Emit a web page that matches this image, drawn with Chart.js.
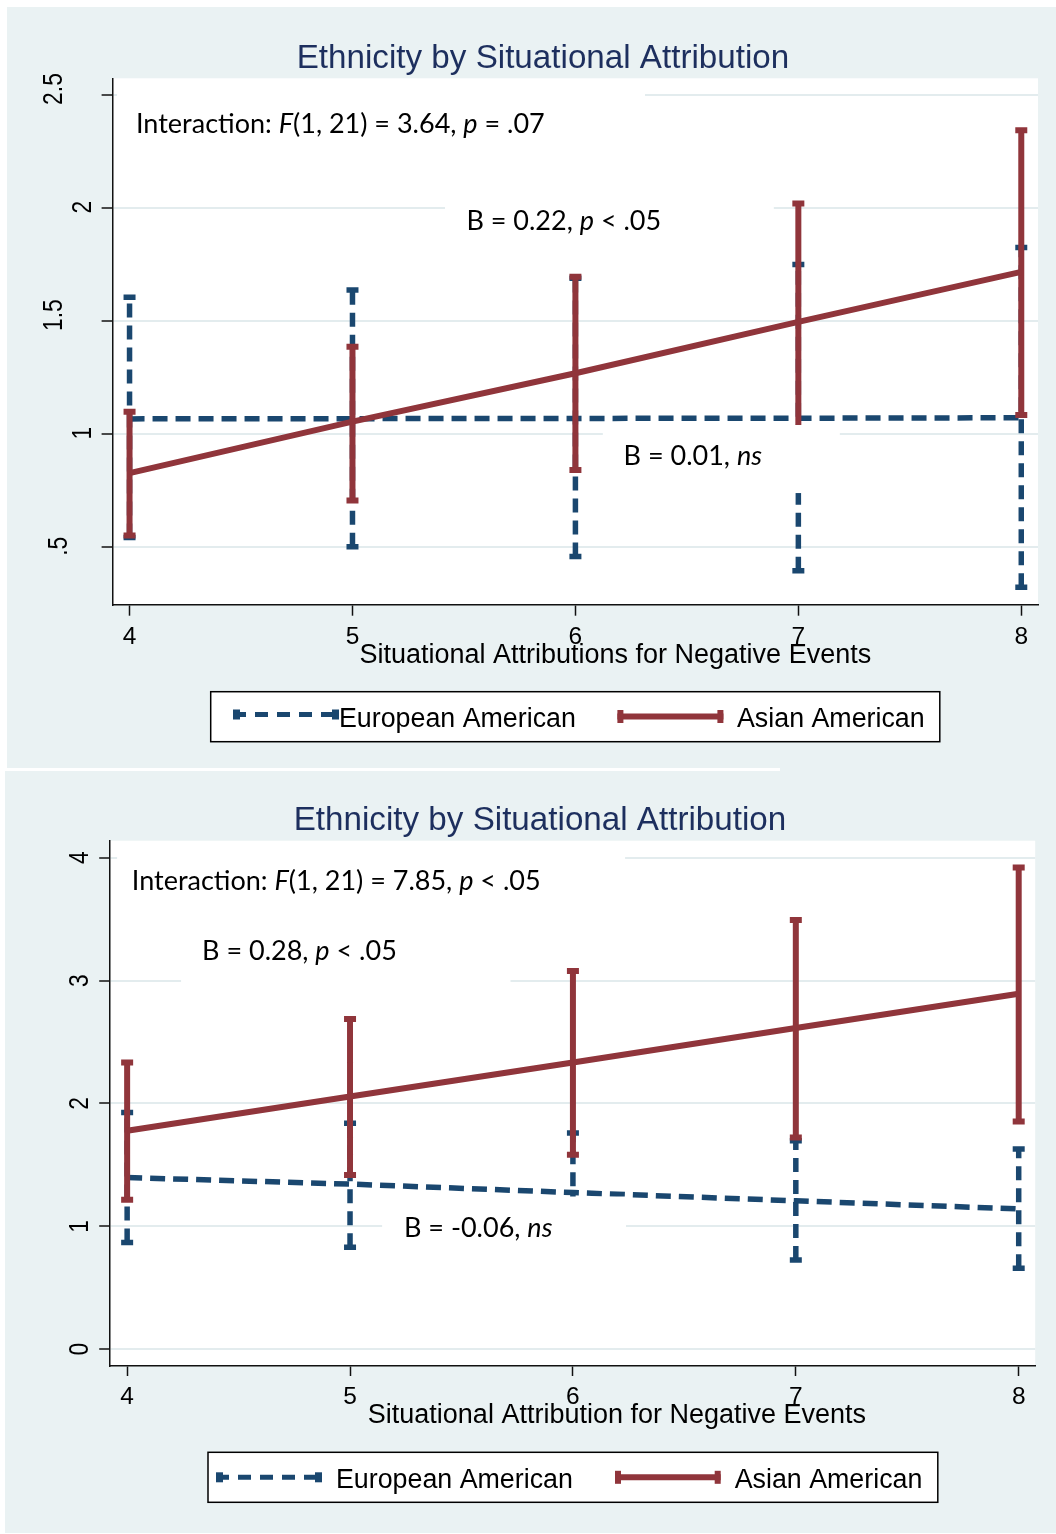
<!DOCTYPE html>
<html>
<head>
<meta charset="utf-8">
<title>Ethnicity by Situational Attribution</title>
<script src="https://cdn.jsdelivr.net/npm/chart.js@4.4.1/dist/chart.umd.min.js"></script>
<style>
  html, body { margin:0; padding:0; background:#ffffff; }
  #page { position:relative; width:1056px; height:1534px; overflow:hidden; }
  canvas { position:absolute; left:0; display:block; }
  #c1 { top:0; }
  #c2 { top:770px; }
</style>
</head>
<body>
<div id="page">
  <canvas id="c1" width="1056" height="770"></canvas>
  <canvas id="c2" width="1056" height="764"></canvas>
</div>
<script>
// ================= DATA =================
const categories  = [4, 5, 6, 7, 8];
const xTickLabels = ['4', '5', '6', '7', '8'];
const seriesNames = ['European American', 'Asian American'];
const chartTitle  = 'Ethnicity by Situational Attribution';

// ---- Panel 1 ----
const p1XTitle       = 'Situational Attributions for Negative Events';
const p1YTicks       = [0.5, 1, 1.5, 2, 2.5];
const p1YTickLabels  = ['.5', '1', '1.5', '2', '2.5'];
const p1EuroMean     = [1.068, 1.069, 1.070, 1.071, 1.073];
const p1EuroLow      = [0.543, 0.503, 0.459, 0.396, 0.324];
const p1EuroHigh     = [1.606, 1.638, 1.690, 1.751, 1.826];
const p1AsianMean    = [0.828, 1.056, 1.270, 1.497, 1.718];
const p1AsianLow     = [0.552, 0.707, 0.842, 0.975, 1.085];
const p1AsianHigh    = [1.099, 1.387, 1.696, 2.020, 2.344];

// ---- Panel 2 ----
const p2XTitle       = 'Situational Attribution for Negative Events';
const p2YTicks       = [0, 1, 2, 3, 4];
const p2YTickLabels  = ['0', '1', '2', '3', '4'];
const p2EuroMean     = [1.397, 1.344, 1.275, 1.208, 1.142];
const p2EuroLow      = [0.868, 0.830, 0.790, 0.727, 0.660];
const p2EuroHigh     = [1.927, 1.840, 1.759, 1.696, 1.629];
const p2AsianMean    = [1.778, 2.057, 2.334, 2.614, 2.893];
const p2AsianLow     = [1.216, 1.419, 1.582, 1.723, 1.853];
const p2AsianHigh    = [2.334, 2.687, 3.078, 3.493, 3.919];

// ---- annotation texts (runs: [text, italic]) ----
const p1Notes = [
  [['Interaction: ',0],['F',1],['(1, 21) = 3.64, ',0],['p',1],[' = .07',0]],
  [['B = 0.22, ',0],['p',1],[' < .05',0]],
  [['B = 0.01, ',0],['ns',1]]
];
const p2Notes = [
  [['Interaction: ',0],['F',1],['(1, 21) = 7.85, ',0],['p',1],[' < .05',0]],
  [['B = 0.28, ',0],['p',1],[' < .05',0]],
  [['B = -0.06, ',0],['ns',1]]
];

// ================= STYLE / LAYOUT =================
const BLUE  = '#1A476F';
const RED   = '#90353B';
const PANEL = '#EAF2F3';
const GRID  = '#E3ECEE';
const TITLE_COLOR = '#1D2F5E';
const SANS  = '"Liberation Sans", Arial, sans-serif';
const NOTE_FONT = 'Lato, "Open Sans", sans-serif';
const NOTE_SIZE = 27;

const layout1 = {
  id: 'p1', offsetY: 0, W: 1056, H: 770,
  panel: [7, 7, 1049, 761],
  area: { left: 112.6, top: 78.3, right: 1038, bottom: 605 },
  xMin: 3.924, xMax: 8.075, yMin: 0.245, yMax: 2.574,
  tickLen: 10.7, xTickPad: 6.6,
  title: { cx: 543, base: 68.3 },
  xTitle: { x: 359.4, base: 663.3, text: p1XTitle },
  yTicks: p1YTicks, yTickLabels: p1YTickLabels,
  yLabelX: { 1: 82, 2: 58, 3: 53 }, yLabelDy: { 1: -1, 2: -1, 3: -6 },
  notes: [
    { at: [4.029, 2.331], box: [3.944, 2.510, 6.312, 2.207] },
    { at: [5.511, 1.9025], box: [5.415, 2.079, 6.890, 1.779] },
    { at: [6.216, 0.864], box: [6.123, 1.041, 7.186, 0.740] }
  ],
  noteRuns: p1Notes,
  legend: {
    box: [210.7, 691.7, 939.8, 741.7],
    items: [
      { x1: 233, x2: 339, yc: 714.5, tx: 339, base: 726.7 },
      { x1: 617.4, x2: 723.4, yc: 716.5, tx: 737, base: 726.7 }
    ]
  },
  series: { euroMean: p1EuroMean, euroLow: p1EuroLow, euroHigh: p1EuroHigh,
            asianMean: p1AsianMean, asianLow: p1AsianLow, asianHigh: p1AsianHigh }
};

const layout2 = {
  id: 'p2', offsetY: 770, W: 1056, H: 764,
  panel: [5, 771, 1051, 762],
  area: { left: 110.2, top: 840.7, right: 1035.2, bottom: 1366 },
  xMin: 3.924, xMax: 8.074, yMin: -0.136, yMax: 4.138,
  tickLen: 10, xTickPad: 6.3,
  title: { cx: 540, base: 830 },
  xTitle: { x: 367.8, base: 1423.3, text: p2XTitle },
  yTicks: p2YTicks, yTickLabels: p2YTickLabels,
  yLabelX: { 1: 79 }, yLabelDy: { 1: 0 },
  notes: [
    { at: [4.021, 3.735], box: [3.955, 4.061, 6.234, 3.506] },
    { at: [4.336, 3.164], box: [4.242, 3.490, 5.720, 2.936] },
    { at: [5.242, 0.917], box: [5.144, 1.243, 6.238, 0.689] }
  ],
  noteRuns: p2Notes,
  legend: {
    box: [208, 1452.3, 937.8, 1502.3],
    items: [
      { x1: 216, x2: 322, yc: 1477.3, tx: 336, base: 1487.7 },
      { x1: 615, x2: 720.7, yc: 1477.3, tx: 734.7, base: 1487.7 }
    ]
  },
  series: { euroMean: p2EuroMean, euroLow: p2EuroLow, euroHigh: p2EuroHigh,
            asianMean: p2AsianMean, asianLow: p2AsianLow, asianHigh: p2AsianHigh }
};

// ================= HELPERS =================
function toPoints(xs, ys) { return xs.map((x, i) => ({ x: x, y: ys[i] })); }
function toBars(xs, lo, hi) {
  const out = [];
  xs.forEach((x, i) => { out.push({ x: x, y: lo[i] }); out.push({ x: x, y: hi[i] }); out.push({ x: x, y: null }); });
  return out;
}

function drawRuns(c, runs, x, y) {
  c.textAlign = 'left';
  c.textBaseline = 'alphabetic';
  c.fillStyle = '#000';
  let cx = x;
  runs.forEach(r => {
    c.font = (r[1] ? 'italic ' : '') + NOTE_SIZE + 'px ' + NOTE_FONT;
    c.fillText(r[0], cx, y);
    cx += c.measureText(r[0]).width;
  });
}

function makeDecor(L) {
  const oy = L.offsetY;
  return {
    id: 'decor_' + L.id,
    beforeDraw(chart) {
      const c = chart.ctx, a = chart.chartArea;
      c.save();
      c.fillStyle = '#ffffff';
      c.fillRect(0, 0, chart.width, chart.height);
      c.fillStyle = PANEL;
      c.fillRect(L.panel[0], L.panel[1] - oy, L.panel[2], L.panel[3]);
      if (L.id === 'p2') { c.fillRect(780, 0, 276, 2); }
      if (L.id === 'p1') { c.fillRect(780, 767, 276, 3); }
      c.fillStyle = '#ffffff';
      c.fillRect(a.left, a.top, a.right - a.left, a.bottom - a.top);
      c.restore();
    },
    afterDatasetsDraw(chart) {
      const c = chart.ctx, xs = chart.scales.x, ys = chart.scales.y;
      c.save();
      L.notes.forEach((n, i) => {
        const x1 = xs.getPixelForValue(n.box[0]), x2 = xs.getPixelForValue(n.box[2]);
        const y1 = ys.getPixelForValue(n.box[1]), y2 = ys.getPixelForValue(n.box[3]);
        c.fillStyle = '#ffffff';
        c.fillRect(x1, y1, x2 - x1, y2 - y1);
        drawRuns(c, L.noteRuns[i], xs.getPixelForValue(n.at[0]), ys.getPixelForValue(n.at[1]));
      });
      c.restore();
    },
    afterDraw(chart) {
      const c = chart.ctx, ys = chart.scales.y;
      c.save();
      // title
      c.fillStyle = TITLE_COLOR;
      c.font = '33.2px ' + SANS;
      c.textAlign = 'center';
      c.textBaseline = 'alphabetic';
      c.fillText(chartTitle, L.title.cx, L.title.base - oy);
      // x axis title
      c.fillStyle = '#000';
      c.font = '27px ' + SANS;
      c.textAlign = 'left';
      c.fillText(L.xTitle.text, L.xTitle.x, L.xTitle.base - oy);
      // y tick labels (rotated)
      L.yTicks.forEach((v, i) => {
        const lab = L.yTickLabels[i];
        const py = ys.getPixelForValue(v) + (L.yLabelDy[lab.length] || 0);
        const cx = L.yLabelX[lab.length] || L.yLabelX[1];
        c.save();
        c.translate(cx, py);
        c.rotate(-Math.PI / 2);
        c.scale(0.8, 1);
        c.font = '28.5px ' + SANS;
        c.textAlign = 'center';
        c.textBaseline = 'middle';
        c.fillStyle = '#000';
        c.fillText(lab, 0, 1);
        c.restore();
      });
      // legend
      const lg = L.legend;
      c.fillStyle = '#ffffff';
      c.fillRect(lg.box[0], lg.box[1] - oy, lg.box[2] - lg.box[0], lg.box[3] - lg.box[1]);
      c.strokeStyle = '#000';
      c.lineWidth = 1.5;
      c.strokeRect(lg.box[0], lg.box[1] - oy, lg.box[2] - lg.box[0], lg.box[3] - lg.box[1]);
      lg.items.forEach((it, k) => {
        const color = k === 0 ? BLUE : RED;
        const yc = it.yc - oy;
        c.strokeStyle = color;
        c.fillStyle = color;
        c.lineWidth = k === 0 ? 5 : 6;
        c.setLineDash(k === 0 ? [13, 9] : []);
        c.beginPath();
        c.moveTo(it.x1, yc);
        c.lineTo(it.x2, yc);
        c.stroke();
        c.setLineDash([]);
        const cw = k === 0 ? 7 : 6, ch = k === 0 ? 10 : 13;
        c.fillRect(it.x1, yc - ch / 2, cw, ch);
        c.fillRect(it.x2 - cw, yc - ch / 2, cw, ch);
        c.fillStyle = '#000';
        c.font = '26.8px ' + SANS;
        c.textAlign = 'left';
        c.textBaseline = 'alphabetic';
        c.fillText(seriesNames[k], it.tx, it.base - oy);
      });
      c.restore();
    }
  };
}

function buildChart(canvasId, L) {
  const S = L.series;
  const padding = {
    left: 0,
    top: L.area.top - L.offsetY,
    right: L.W - L.area.right,
    bottom: L.H - (L.area.bottom - L.offsetY) - 60
  };
  return new Chart(document.getElementById(canvasId), {
    type: 'line',
    data: {
      datasets: [
        { label: seriesNames[1], data: toPoints(categories, S.asianMean),
          borderColor: RED, borderWidth: 6, pointRadius: 0, tension: 0, order: 0 },
        { label: seriesNames[1] + ' CI', data: toBars(categories, S.asianLow, S.asianHigh),
          borderColor: RED, borderWidth: 6, spanGaps: false, tension: 0,
          pointStyle: 'line', pointRadius: 6, pointBorderWidth: 6, pointBorderColor: RED, order: 1 },
        { label: seriesNames[0], data: toPoints(categories, S.euroMean),
          borderColor: BLUE, borderWidth: 5.5, borderDash: [15, 8], pointRadius: 0, tension: 0, order: 2 },
        { label: seriesNames[0] + ' CI', data: toBars(categories, S.euroLow, S.euroHigh),
          borderColor: BLUE, borderWidth: 5.5, borderDash: [14, 8], spanGaps: false, tension: 0,
          pointStyle: 'line', pointRadius: 6, pointBorderWidth: 5.5, pointBorderColor: BLUE, order: 3 }
      ]
    },
    options: {
      responsive: false,
      animation: false,
      devicePixelRatio: 1,
      events: [],
      layout: { padding: padding },
      plugins: { legend: { display: false }, title: { display: false }, tooltip: { enabled: false } },
      scales: {
        x: {
          type: 'linear', min: L.xMin, max: L.xMax,
          afterBuildTicks: s => { s.ticks = categories.map(v => ({ value: v })); },
          afterFit: s => { s.height = 60; },
          grid: { display: true, drawOnChartArea: false, drawTicks: true, tickLength: L.tickLen,
                  tickColor: '#111', tickWidth: 1.5 },
          border: { display: true, color: '#111', width: 1.5 },
          ticks: { display: true, autoSkip: false, maxRotation: 0, minRotation: 0, padding: L.xTickPad,
                   color: '#000', font: { family: SANS, size: 24.5 },
                   callback: v => xTickLabels[categories.indexOf(v)] }
        },
        y: {
          type: 'linear', min: L.yMin, max: L.yMax,
          afterBuildTicks: s => { s.ticks = L.yTicks.map(v => ({ value: v })); },
          afterFit: s => { s.width = L.area.left; },
          grid: { display: true, drawOnChartArea: true, color: GRID, lineWidth: 2, drawTicks: true,
                  tickLength: 11, tickColor: '#111', tickWidth: 1.5 },
          border: { display: true, color: '#111', width: 1.5 },
          ticks: { display: false }
        }
      }
    },
    plugins: [makeDecor(L)]
  });
}

function start() {
  buildChart('c1', layout1);
  buildChart('c2', layout2);
}
const fontLoads = [
  '27px Lato', 'italic 27px Lato', '24px "Liberation Sans"', '33px "Liberation Sans"'
].map(f => (document.fonts && document.fonts.load) ? document.fonts.load(f).catch(() => null) : Promise.resolve());
let started = false;
Promise.all(fontLoads).then(() => { if (!started) { started = true; start(); } });
setTimeout(() => { if (!started) { started = true; start(); } }, 1500);
</script>
</body>
</html>
